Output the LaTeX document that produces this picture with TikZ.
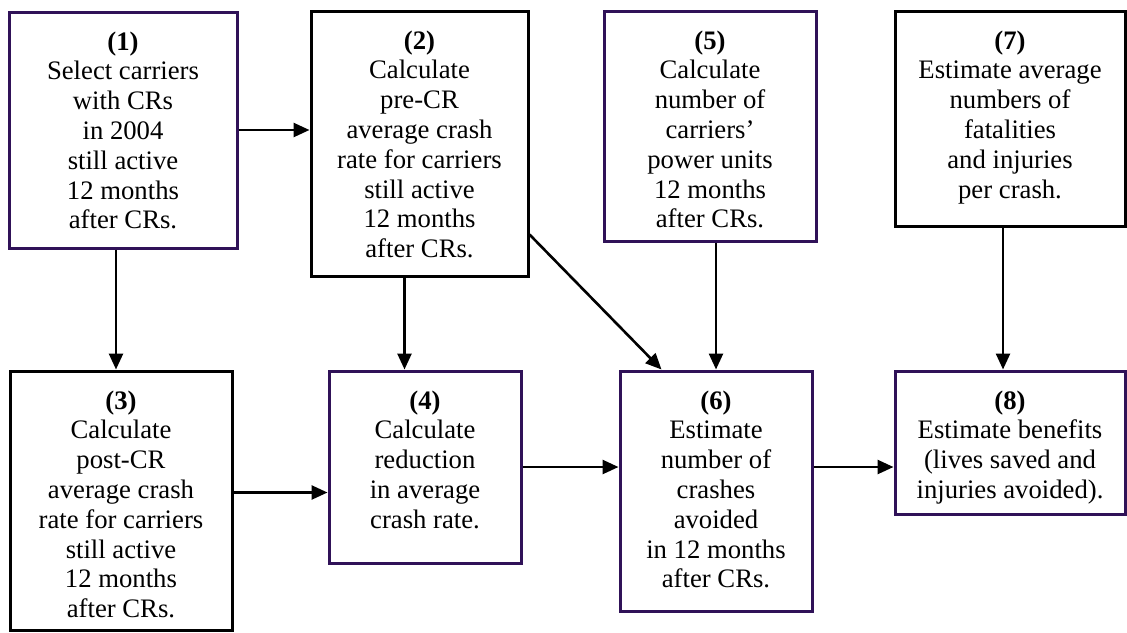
\documentclass[tikz,border=0pt]{standalone}
\usepackage{fontspec}
\setmainfont{Liberation Serif}
\usepackage{tikz}
\usetikzlibrary{calc, arrows.meta, positioning}

\definecolor{boxpurple}{RGB}{48,18,88}
\newcommand{\steptext}[3]{\parbox[c][#2][t]{#1}{\centering\rule{0pt}{19pt}#3}}

\begin{document}
\begin{tikzpicture}[x=0.5pt, y=-0.5pt,
        box/.style = {draw, line width=1.5pt, inner sep=0pt, font=\fontsize{13.35}{14.9}\selectfont},
        pbox/.style = {box, draw=boxpurple},
        arr/.style = {line width=1.3pt, -{Triangle[length=8pt,width=7pt]}}]
        \useasboundingbox (0,0) rectangle (1127,632);
        % top row
        \node[pbox] (n1) at (123,130) {\steptext{114pt}{118pt}{\textbf{(1)}\\Select carriers\\with CRs\\in 2004\\still active\\12 months\\after CRs.}};
        \node[box] (n2) at (419.5,143.5) {\steptext{108.5pt}{132.5pt}{\textbf{(2)}\\Calculate\\pre-CR\\average crash\\rate for carriers\\still active\\12 months\\after CRs.}};
        \node[pbox] (n5) at (710,126) {\steptext{106pt}{115pt}{\textbf{(5)}\\Calculate\\number of\\carriers’\\power units\\12 months\\after CRs.}};
        \node[box] (n7) at (1010,118.5) {\steptext{115pt}{107.5pt}{\textbf{(7)}\\Estimate average\\numbers of\\fatalities\\and injuries\\per crash.}};
        % bottom row
        \node[box] (n3) at (121,500.5) {\steptext{111pt}{129.5pt}{\textbf{(3)}\\Calculate\\post-CR\\average crash\\rate for carriers\\still active\\12 months\\after CRs.}};
        \node[pbox] (n4) at (425,467) {\steptext{96pt}{96pt}{\textbf{(4)}\\Calculate\\reduction\\in average\\crash rate.}};
        \node[pbox] (n6) at (716,491) {\steptext{96pt}{120pt}{\textbf{(6)}\\Estimate\\number of\\crashes\\avoided\\in 12 months\\after CRs.}};
        \node[pbox] (n8) at (1010,442.5) {\steptext{115pt}{71.5pt}{\textbf{(8)}\\Estimate benefits\\(lives saved and\\injuries avoided).}};

        \coordinate (a13) at ($(n1.south)+(-7,0)$);
        \coordinate (a24) at ($(n2.south)+(-15,0)$);
        \coordinate (a34) at ($(n3.east)+(0,-8)$);
        \coordinate (a78) at ($(n8.north)+(-7,0)$);

        \draw[arr] (n1.east) -- (n1.east -| n2.west);
        \draw[arr] (a13) -- (a13 |- n3.north);
        \draw[arr] (a24) -- (a24 |- n4.north);
        \draw[arr] (a34) -- (a34 -| n4.west);
        \draw[arr] ($(n2.south east)+(0,-43)$) -- ($(n6.north west)+(43,0)$);
        \draw[arr] (n6.north |- n5.south) -- (n6.north);
        \draw[arr] (n4.east) -- (n4.east -| n6.west);
        \draw[arr] (n4.east -| n6.east) -- (n4.east -| n8.west);
        \draw[arr] (a78 |- n7.south) -- (a78);
    \end{tikzpicture}
\end{document}
